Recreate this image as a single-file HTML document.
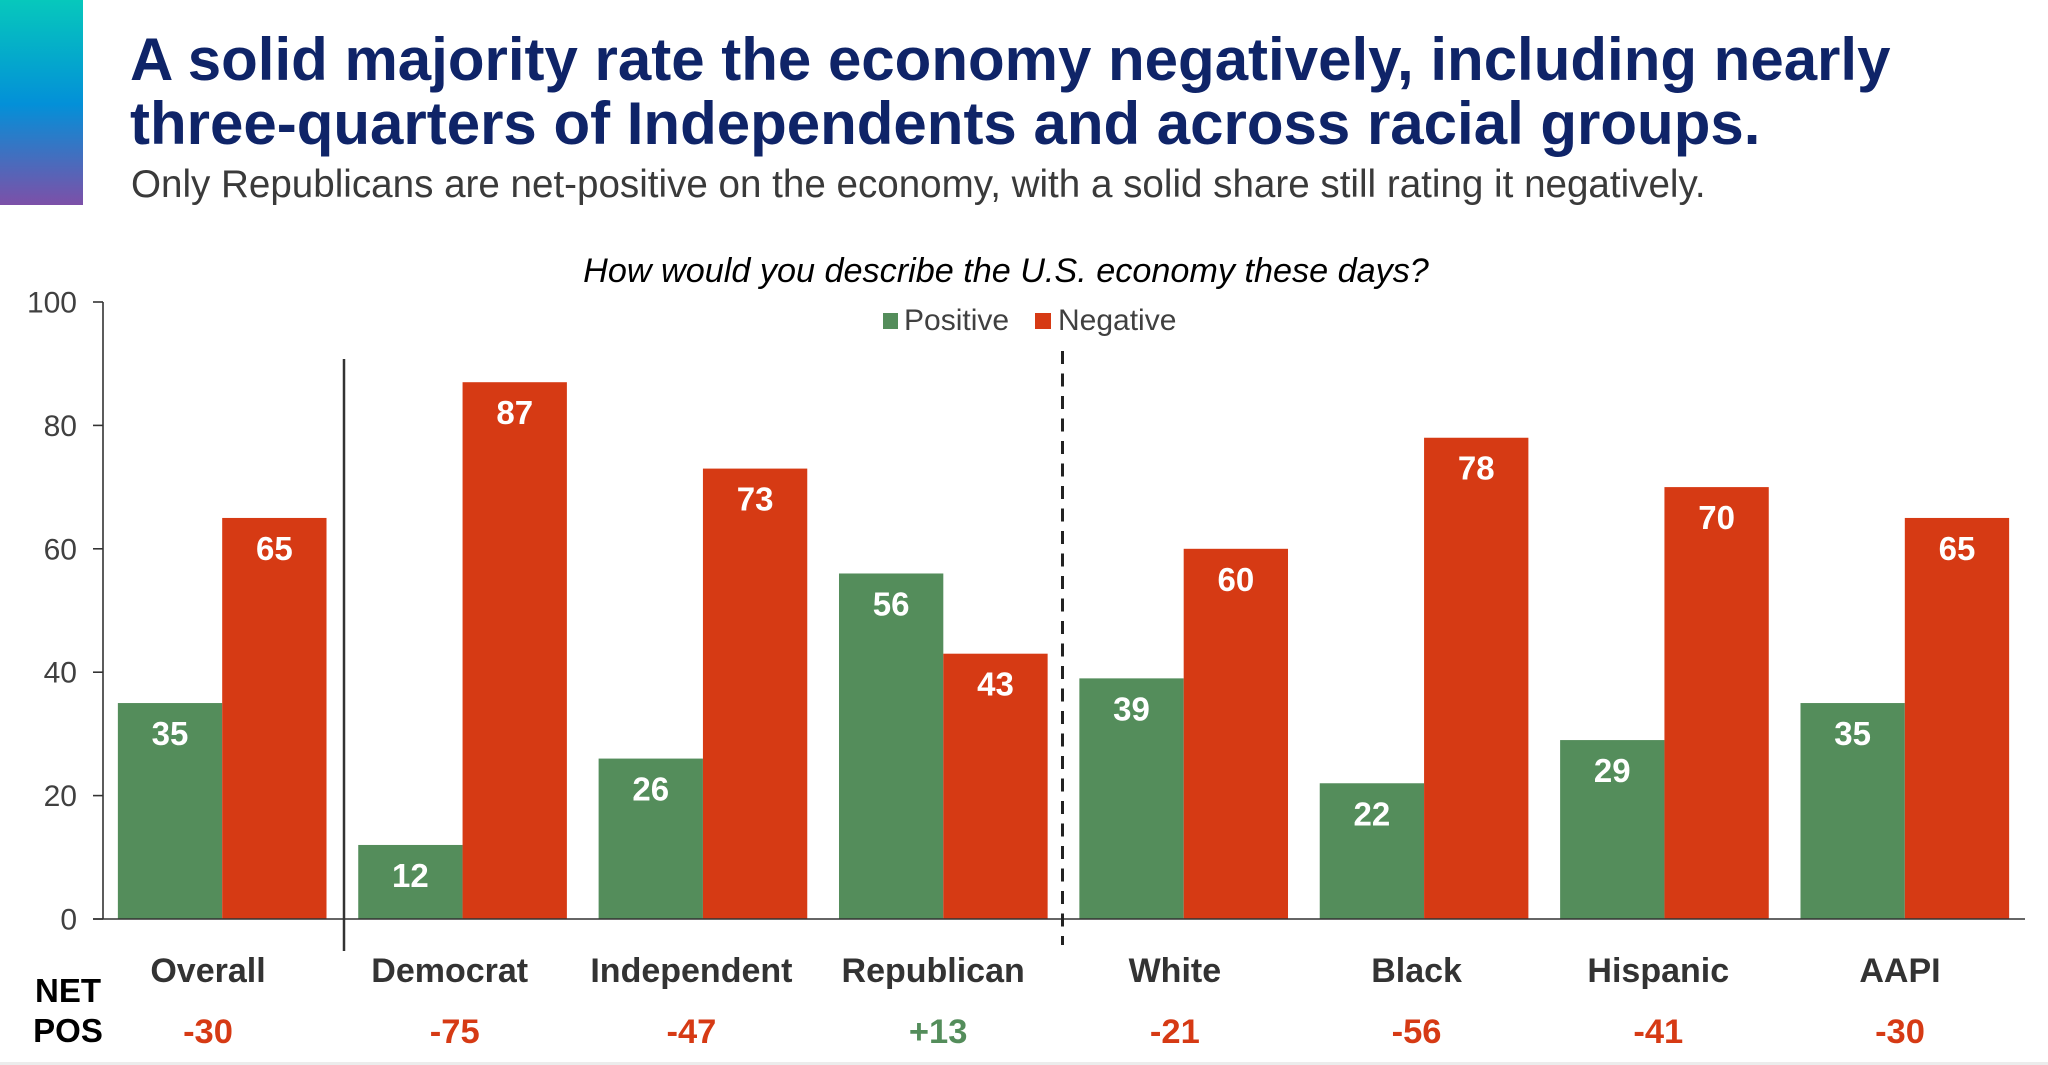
<!DOCTYPE html>
<html lang="en">
<head>
<meta charset="utf-8">
<title>Economy ratings</title>
<style>
html,body{margin:0;padding:0;background:#fff;width:2048px;height:1065px;overflow:hidden}
svg{display:block}
text{font-family:"Liberation Sans",Arial,sans-serif}
</style>
</head>
<body>
<svg id="chart" xmlns="http://www.w3.org/2000/svg" width="2048" height="1065" viewBox="0 0 2048 1065">
  <defs>
    <linearGradient id="accent" x1="0" y1="0" x2="0" y2="1">
      <stop offset="0" stop-color="#06c8bc"/>
      <stop offset="0.51" stop-color="#0390d8"/>
      <stop offset="1" stop-color="#7d50a8"/>
    </linearGradient>
  </defs>
  <rect x="0" y="0" width="83" height="205" fill="url(#accent)"/>
  <text x="130" y="80" font-size="60" font-weight="700" fill="#0f2468">A solid majority rate the economy negatively, including nearly</text>
  <text x="130" y="144" font-size="60" font-weight="700" fill="#0f2468">three-quarters of Independents and across racial groups.</text>
  <text x="131" y="197" font-size="38.6" fill="#3a3a3a">Only Republicans are net-positive on the economy, with a solid share still rating it negatively.</text>
  <text x="1006" y="282" font-size="34.2" font-style="italic" text-anchor="middle" fill="#000">How would you describe the U.S. economy these days?</text>

  <g>
    <rect x="883" y="313" width="15" height="16" fill="#548d5b"/>
    <text x="904" y="330" font-size="30" fill="#404040">Positive</text>
    <rect x="1035" y="313" width="16" height="16" fill="#d63a14"/>
    <text x="1058" y="330" font-size="30" fill="#404040">Negative</text>
  </g>

  <g id="marks"></g>
  <g id="axes"></g>

  <line x1="344" y1="359" x2="344" y2="951" stroke="#333" stroke-width="2.5"/>
  <line x1="1062.5" y1="351" x2="1062.5" y2="945" stroke="#222" stroke-width="3" stroke-dasharray="13 9.5"/>

  <text x="68" y="1002" font-size="33" font-weight="700" text-anchor="middle" fill="#000">NET</text>
  <text x="68" y="1042" font-size="33" font-weight="700" text-anchor="middle" fill="#000">POS</text>
  <rect x="0" y="1062" width="2048" height="3" fill="#ececec"/>
</svg>
<script>
const categories = ["Overall","Democrat","Independent","Republican","White","Black","Hispanic","AAPI"];
const positiveValues = [35,12,26,56,39,22,29,35];
const negativeValues = [65,87,73,43,60,78,70,65];
const netValues = [-30,-75,-47,13,-21,-56,-41,-30];
const yTickValues = [0,20,40,60,80,100];

const SVG_NS = "http://www.w3.org/2000/svg";
const GREEN = "#548d5b", RED = "#d63a14";
const plotTop = 302, plotBottom = 919, plotLeft = 102, plotRight = 2025;
const yScale = v => plotBottom - v / 100 * (plotBottom - plotTop);
const bandWidth = (plotRight - plotLeft) / categories.length;
const groupCenter = i => plotLeft + bandWidth * (i + 0.5);
const barWidth = bandWidth * 0.434;
const labelCenter = i => 208 + (1900 - 208) / (categories.length - 1) * i;
const netCenter = i => labelCenter(i) + ((i === 1 || i === 3) ? 5 : 0);

function make(tag, attrs, parent, content) {
  const el = document.createElementNS(SVG_NS, tag);
  for (const k in attrs) el.setAttribute(k, attrs[k]);
  if (content !== undefined) el.textContent = content;
  parent.appendChild(el);
  return el;
}

const marks = document.getElementById("marks");
const axes = document.getElementById("axes");

categories.forEach((cat, i) => {
  const slug = cat.toLowerCase();
  const cx = groupCenter(i);
  const series = [
    {key: "positive", value: positiveValues[i], x: cx - barWidth, fill: GREEN},
    {key: "negative", value: negativeValues[i], x: cx, fill: RED}
  ];
  series.forEach(s => {
    const top = yScale(s.value);
    const bar = make("rect", {x: s.x, y: top, width: barWidth, height: plotBottom - top, fill: s.fill}, marks);
    
    
    bar.setAttribute('aria-label', slug + ' ' + s.key);
    const lbl = make("text", {x: s.x + barWidth / 2, y: top + 42, "font-size": 33, "font-weight": 700, "text-anchor": "middle", fill: "#fff"}, marks, String(s.value));
    
    
  });
  const catLabel = make("text", {x: labelCenter(i), y: 982, "font-size": 34, "font-weight": 700, "text-anchor": "middle", fill: "#333"}, axes, cat);
  
  
  const net = netValues[i];
  const netLabel = make("text", {x: netCenter(i), y: 1043, "font-size": 34.5, "font-weight": 700, "text-anchor": "middle", fill: net >= 0 ? GREEN : RED}, axes, (net > 0 ? "+" : "") + net);
  
  
});

const yAxisLine = make("line", {x1: 103, y1: plotTop, x2: 103, y2: plotBottom, stroke: "#333", "stroke-width": 1.6}, axes);


const xAxisLine = make("line", {x1: 93, y1: plotBottom, x2: plotRight, y2: plotBottom, stroke: "#333", "stroke-width": 1.6}, axes);



yTickValues.forEach(v => {
  const y = yScale(v);
  const tick = make("line", {x1: 93, y1: y, x2: 103, y2: y, stroke: "#333", "stroke-width": 1.6}, axes);
  
  
  const t = make("text", {x: 77, y: y + 10.5, "font-size": 30, "text-anchor": "end", fill: "#404040"}, axes, String(v));
  
  
});
</script>
</body>
</html>
